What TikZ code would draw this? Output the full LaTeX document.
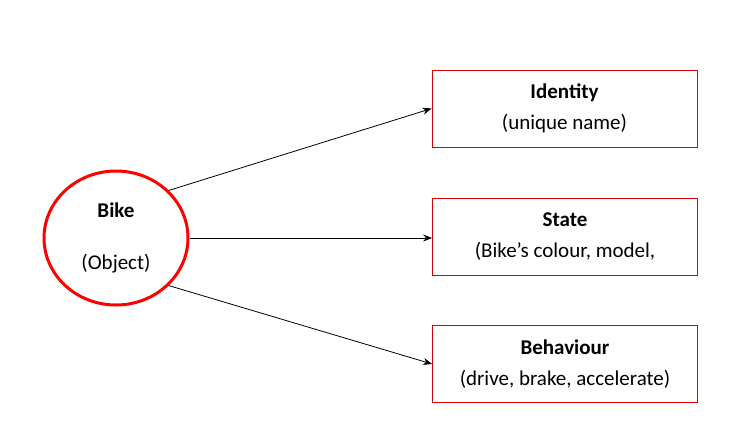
\documentclass[tikz,border=0pt]{standalone}
\usepackage{fontspec}
\setmainfont{Carlito}
\usetikzlibrary{shapes.geometric,arrows.meta}
\begin{document}
\begin{tikzpicture}[x=1pt,y=-1pt,
  box/.style={draw=red!85!black,line width=0.8pt,minimum width=265pt,minimum height=77pt,align=center,font=\fontsize{21}{31}\selectfont},
  conn/.style={-{Stealth[length=9pt,width=7pt]},line width=0.8pt}]
\useasboundingbox (0,0) rectangle (742,440);
\node[ellipse,draw=red,line width=3pt,minimum width=144pt,minimum height=134pt,inner sep=0pt,align=center,font=\fontsize{21}{52}\selectfont] (bike) at (116,238) {\textbf{Bike}\\(Object)};
\node[box] (id) at (564.5,108.5) {\textbf{Identity}\\(unique name)};
\node[box] (st) at (565,236.5) {\textbf{State}\\(Bike’s colour, model,};
\node[box] (be) at (565,364) {\textbf{Behaviour}\\(drive, brake, accelerate)};
\draw[conn] (bike.42) -- (id.west);
\draw[conn] (bike.east) -- (st.west |- bike.east);
\draw[conn] (bike.-42) -- (be.west);
\end{tikzpicture}
\end{document}
